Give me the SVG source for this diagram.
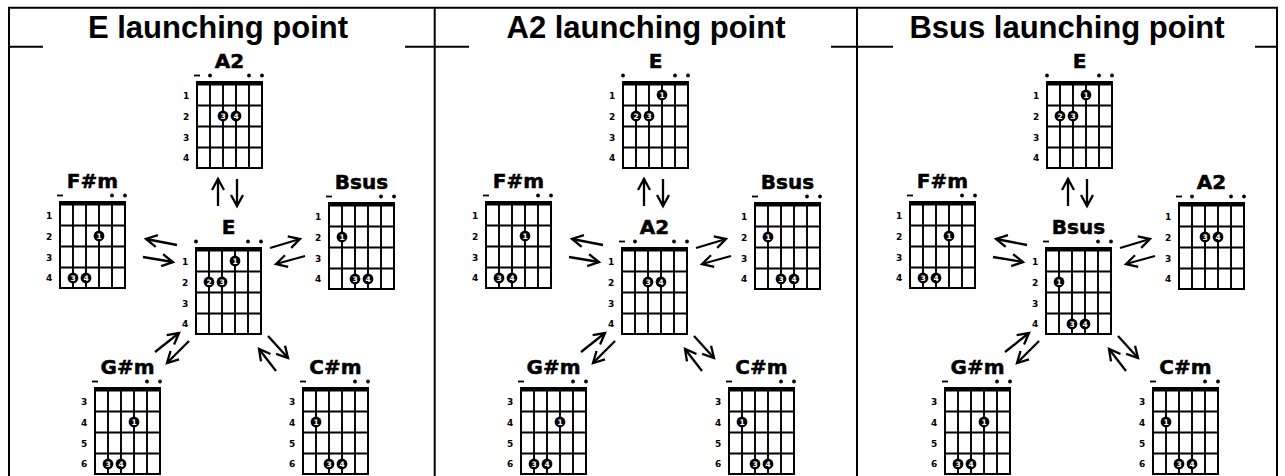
<svg xmlns="http://www.w3.org/2000/svg" width="1285" height="476" viewBox="0 0 1285 476">
<style>
.hdr{font-family:"Liberation Sans",Arial,sans-serif;font-weight:bold;font-size:31px;text-anchor:middle;fill:#000}
.title{font-family:"DejaVu Sans",sans-serif;font-weight:bold;font-size:20px;text-anchor:middle;fill:#000;stroke:#000;stroke-width:0.5}
.fn{font-family:"DejaVu Sans",sans-serif;font-weight:bold;font-size:9px;text-anchor:middle;fill:#000}
.fc{fill:#000}
.fd{font-family:"DejaVu Sans",sans-serif;font-weight:bold;font-size:7.5px;text-anchor:middle;fill:#fff}
.mk{fill:#000}
.dash{stroke:#000;stroke-width:1.8}
.arr{stroke:#000;stroke-width:2.3;fill:none;marker-end:url(#ah)}
.tbl{stroke:#000;stroke-width:2;fill:none}
</style>
<defs>
<marker id="ah" viewBox="-13 -8 17 16" refX="0" refY="0" markerWidth="17" markerHeight="16" markerUnits="userSpaceOnUse" orient="auto">
<path d="M-11,-6 L0,0 L-11,6" fill="none" stroke="#000" stroke-width="2.3"/>
</marker>
<g id="grid">
<rect x="0" y="0" width="65" height="86" fill="#fff" stroke="#000" stroke-width="2"/>
<path d="M13,0V86 M26,0V86 M39,0V86 M52,0V86 M0,23.5H65 M0,44.5H65 M0,65.5H65" stroke="#000" stroke-width="1.9" fill="none"/>
<path d="M-1,1.7H66" stroke="#000" stroke-width="3.8"/>
</g>
<g id="f14">
<text class="fn" x="-11" y="17.4">1</text>
<text class="fn" x="-11" y="38.4">2</text>
<text class="fn" x="-11" y="58.9">3</text>
<text class="fn" x="-11" y="79.4">4</text>
</g>
<g id="f36">
<text class="fn" x="-11" y="17.4">3</text>
<text class="fn" x="-11" y="38.4">4</text>
<text class="fn" x="-11" y="58.9">5</text>
<text class="fn" x="-11" y="79.4">6</text>
</g>
<g id="sE">
<circle class="mk" cx="0" cy="-6.5" r="1.9"/>
<circle class="mk" cx="52" cy="-6.5" r="1.9"/>
<circle class="mk" cx="65" cy="-6.5" r="1.9"/>
<circle class="fc" cx="39" cy="13" r="5.4"/><text class="fd" x="39" y="15.8">1</text>
<circle class="fc" cx="13" cy="34" r="5.4"/><text class="fd" x="13" y="36.8">2</text>
<circle class="fc" cx="26" cy="34" r="5.4"/><text class="fd" x="26" y="36.8">3</text>
</g>
<g id="sA2">
<path class="dash" d="M-3,-6.5H3"/>
<circle class="mk" cx="13" cy="-6.5" r="1.9"/>
<circle class="mk" cx="52" cy="-6.5" r="1.9"/>
<circle class="mk" cx="65" cy="-6.5" r="1.9"/>
<circle class="fc" cx="26" cy="34" r="5.4"/><text class="fd" x="26" y="36.8">3</text>
<circle class="fc" cx="39" cy="34" r="5.4"/><text class="fd" x="39" y="36.8">4</text>
</g>
<g id="sFm">
<path class="dash" d="M-3,-6.5H3"/>
<circle class="mk" cx="52" cy="-6.5" r="1.9"/>
<circle class="mk" cx="65" cy="-6.5" r="1.9"/>
<circle class="fc" cx="39" cy="34" r="5.4"/><text class="fd" x="39" y="36.8">1</text>
<circle class="fc" cx="13" cy="76" r="5.4"/><text class="fd" x="13" y="78.8">3</text>
<circle class="fc" cx="26" cy="76" r="5.4"/><text class="fd" x="26" y="78.8">4</text>
</g>
<g id="sBs">
<path class="dash" d="M-3,-6.5H3"/>
<circle class="mk" cx="52" cy="-6.5" r="1.9"/>
<circle class="mk" cx="65" cy="-6.5" r="1.9"/>
<circle class="fc" cx="13" cy="34" r="5.4"/><text class="fd" x="13" y="36.8">1</text>
<circle class="fc" cx="26" cy="76" r="5.4"/><text class="fd" x="26" y="78.8">3</text>
<circle class="fc" cx="39" cy="76" r="5.4"/><text class="fd" x="39" y="78.8">4</text>
</g>
</defs>
<rect width="1285" height="476" fill="#fff"/>
<g id="table">
<path class="tbl" d="M8,7.7H1278 M9,6.7V476 M434.7,6.7V476 M857,6.7V476 M1277,6.7V476 M8,46.7H43 M405,46.7H469 M831,46.7H893 M1255,46.7H1278"/>
<text class="hdr" x="218" y="38">E launching point</text>
<text class="hdr" x="646" y="38">A2 launching point</text>
<text class="hdr" x="1067" y="38">Bsus launching point</text>
</g>
<g id="connectors">
<path class="arr" d="M218,206V179"/>
<path class="arr" d="M237,179V206"/>
<path class="arr" d="M177,245L146,239"/>
<path class="arr" d="M143,257L173,262"/>
<path class="arr" d="M270,248L300,239"/>
<path class="arr" d="M305,256L276,264"/>
<path class="arr" d="M155,352L179,333"/>
<path class="arr" d="M189,341L167,363"/>
<path class="arr" d="M268,336L288,358"/>
<path class="arr" d="M276,371L259,349"/>
<path class="arr" d="M644,206V179"/>
<path class="arr" d="M663,179V206"/>
<path class="arr" d="M603,245L572,239"/>
<path class="arr" d="M569,257L599,262"/>
<path class="arr" d="M696,248L726,239"/>
<path class="arr" d="M731,256L702,264"/>
<path class="arr" d="M581,352L605,333"/>
<path class="arr" d="M615,341L593,363"/>
<path class="arr" d="M694,336L714,358"/>
<path class="arr" d="M702,371L685,349"/>
<path class="arr" d="M1068,206V179"/>
<path class="arr" d="M1087,179V206"/>
<path class="arr" d="M1027,245L996,239"/>
<path class="arr" d="M993,257L1023,262"/>
<path class="arr" d="M1120,248L1150,239"/>
<path class="arr" d="M1155,256L1126,264"/>
<path class="arr" d="M1005,352L1029,333"/>
<path class="arr" d="M1039,341L1017,363"/>
<path class="arr" d="M1118,336L1138,358"/>
<path class="arr" d="M1126,371L1109,349"/>
</g>
<g id="p1-top-A2" transform="translate(197,82)"><use href="#grid"/><use href="#f14"/><use href="#sA2"/><text class="title" x="32.5" y="-14">A2</text></g>
<g id="p1-left-Fsm" transform="translate(60,202)"><use href="#grid"/><use href="#f14"/><use href="#sFm"/><text class="title" x="32.5" y="-14">F#m</text></g>
<g id="p1-center-E" transform="translate(196,248)"><use href="#grid"/><use href="#f14"/><use href="#sE"/><text class="title" x="32.5" y="-14">E</text></g>
<g id="p1-right-Bsus" transform="translate(329,203)"><use href="#grid"/><use href="#f14"/><use href="#sBs"/><text class="title" x="32.5" y="-14">Bsus</text></g>
<g id="p1-bl-Gsm" transform="translate(95,388)"><use href="#grid"/><use href="#f36"/><use href="#sFm"/><text class="title" x="32.5" y="-14">G#m</text></g>
<g id="p1-br-Csm" transform="translate(303,388)"><use href="#grid"/><use href="#f36"/><use href="#sBs"/><text class="title" x="32.5" y="-14">C#m</text></g>
<g id="p2-top-E" transform="translate(623,82)"><use href="#grid"/><use href="#f14"/><use href="#sE"/><text class="title" x="32.5" y="-14">E</text></g>
<g id="p2-left-Fsm" transform="translate(486,202)"><use href="#grid"/><use href="#f14"/><use href="#sFm"/><text class="title" x="32.5" y="-14">F#m</text></g>
<g id="p2-center-A2" transform="translate(622,248)"><use href="#grid"/><use href="#f14"/><use href="#sA2"/><text class="title" x="32.5" y="-14">A2</text></g>
<g id="p2-right-Bsus" transform="translate(755,203)"><use href="#grid"/><use href="#f14"/><use href="#sBs"/><text class="title" x="32.5" y="-14">Bsus</text></g>
<g id="p2-bl-Gsm" transform="translate(521,388)"><use href="#grid"/><use href="#f36"/><use href="#sFm"/><text class="title" x="32.5" y="-14">G#m</text></g>
<g id="p2-br-Csm" transform="translate(729,388)"><use href="#grid"/><use href="#f36"/><use href="#sBs"/><text class="title" x="32.5" y="-14">C#m</text></g>
<g id="p3-top-E" transform="translate(1047,82)"><use href="#grid"/><use href="#f14"/><use href="#sE"/><text class="title" x="32.5" y="-14">E</text></g>
<g id="p3-left-Fsm" transform="translate(910,202)"><use href="#grid"/><use href="#f14"/><use href="#sFm"/><text class="title" x="32.5" y="-14">F#m</text></g>
<g id="p3-center-Bsus" transform="translate(1046,248)"><use href="#grid"/><use href="#f14"/><use href="#sBs"/><text class="title" x="32.5" y="-14">Bsus</text></g>
<g id="p3-right-A2" transform="translate(1179,203)"><use href="#grid"/><use href="#f14"/><use href="#sA2"/><text class="title" x="32.5" y="-14">A2</text></g>
<g id="p3-bl-Gsm" transform="translate(945,388)"><use href="#grid"/><use href="#f36"/><use href="#sFm"/><text class="title" x="32.5" y="-14">G#m</text></g>
<g id="p3-br-Csm" transform="translate(1153,388)"><use href="#grid"/><use href="#f36"/><use href="#sBs"/><text class="title" x="32.5" y="-14">C#m</text></g>
</svg>
